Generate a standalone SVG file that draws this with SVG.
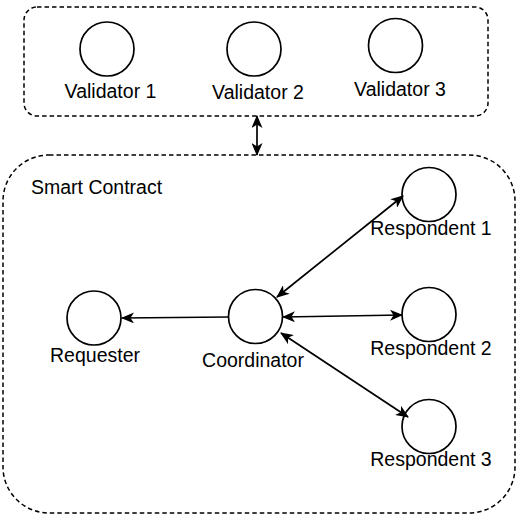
<svg xmlns="http://www.w3.org/2000/svg" width="522" height="519" viewBox="0 0 522 519">
<style>
.box{fill:none;stroke:#000;stroke-width:1.5;stroke-dasharray:4.5 3}
.node{fill:#fff;stroke:#000;stroke-width:1.7}
.lbl{font-family:"Liberation Sans",Arial,sans-serif;font-size:19.5px;fill:#000;text-anchor:middle}
.edge{fill:none;stroke:#000;stroke-width:1.7}
</style>
<defs>
<marker id="arr" viewBox="0 0 13 11" refX="12" refY="5.5" markerWidth="13" markerHeight="11" markerUnits="userSpaceOnUse" orient="auto-start-reverse">
<path d="M0,0 L13,5.5 L0,11 L3.5,5.5 Z" fill="#000"/>
</marker>
</defs>
<g id="validators-group">
<rect class="box" x="24" y="7" width="464" height="109" rx="13" ry="13"/>
</g>
<g id="smart-contract">
<rect class="box" x="3" y="155" width="512" height="358" rx="46" ry="46"/>
<text class="lbl" x="31" y="194" style="text-anchor:start">Smart Contract</text>
</g>
<g id="validator1"><circle class="node" cx="107" cy="49" r="27"/><text class="lbl" x="110.5" y="98">Validator 1</text></g>
<g id="validator2"><circle class="node" cx="254" cy="49" r="27"/><text class="lbl" x="258" y="99">Validator 2</text></g>
<g id="validator3"><circle class="node" cx="395.5" cy="45.5" r="27"/><text class="lbl" x="400" y="96">Validator 3</text></g>
<g id="requester"><circle class="node" cx="94" cy="318" r="27"/><text class="lbl" x="95" y="362">Requester</text></g>
<g id="coordinator"><circle class="node" cx="255.5" cy="316.5" r="27"/><text class="lbl" x="253" y="367">Coordinator</text></g>
<g id="respondent1"><circle class="node" cx="429" cy="194.5" r="27"/><text class="lbl" x="431" y="235">Respondent 1</text></g>
<g id="respondent2"><circle class="node" cx="429" cy="314.5" r="27"/><text class="lbl" x="431" y="355">Respondent 2</text></g>
<g id="respondent3"><circle class="node" cx="429" cy="426.5" r="27"/><text class="lbl" x="431" y="466">Respondent 3</text></g>
<g id="connectors">
<line class="edge" x1="257" y1="116" x2="257" y2="155" marker-start="url(#arr)" marker-end="url(#arr)"/>
<line class="edge" x1="228.5" y1="317" x2="122" y2="318" marker-end="url(#arr)"/>
<line class="edge" x1="277" y1="297" x2="403" y2="196" marker-start="url(#arr)" marker-end="url(#arr)"/>
<line class="edge" x1="283" y1="317" x2="402" y2="315" marker-start="url(#arr)" marker-end="url(#arr)"/>
<line class="edge" x1="281" y1="333" x2="408" y2="417" marker-start="url(#arr)" marker-end="url(#arr)"/>
</g>
</svg>
